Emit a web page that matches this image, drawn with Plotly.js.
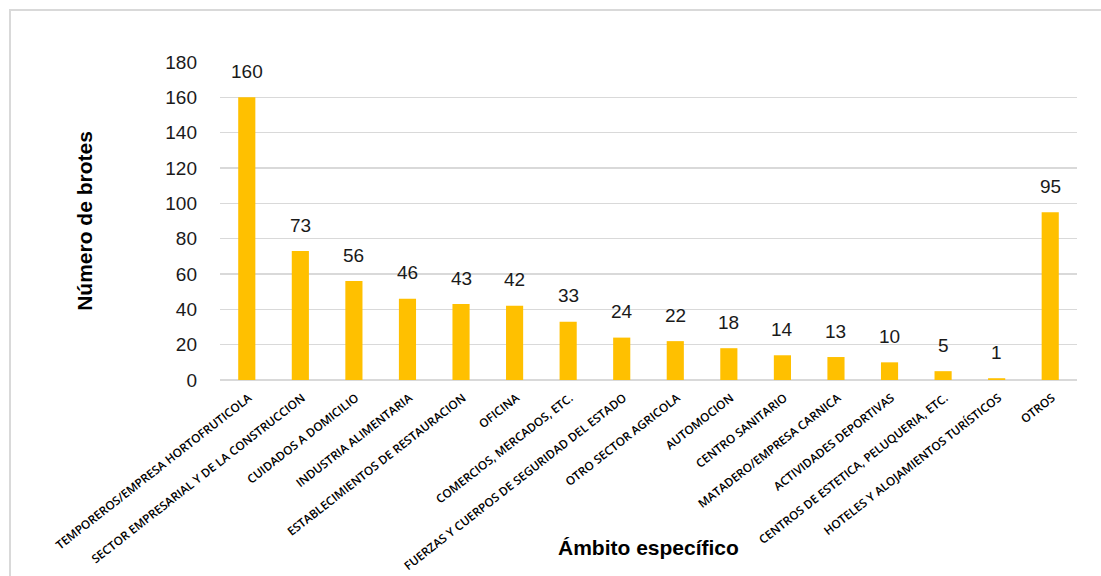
<!DOCTYPE html>
<html>
<head>
<meta charset="utf-8">
<script src="https://cdn.plot.ly/plotly-3.0.1.min.js"></script>
<style>
html,body{margin:0;padding:0;background:#fff;}
#wrap{position:relative;width:1101px;height:576px;overflow:hidden;}
#chart{position:absolute;left:0;top:0;width:1101px;height:576px;}
#frame{position:absolute;left:9px;top:9px;width:1200px;height:700px;border-left:2px solid #d9d9d9;border-top:2px solid #d9d9d9;pointer-events:none;}
</style>
</head>
<body>
<div id="wrap"><div id="chart"></div><div id="frame"></div></div>
<script>
const categories = [
  "TEMPOREROS/EMPRESA HORTOFRUTICOLA",
  "SECTOR EMPRESARIAL Y DE LA CONSTRUCCION",
  "CUIDADOS A DOMICILIO",
  "INDUSTRIA ALIMENTARIA",
  "ESTABLECIMIENTOS DE RESTAURACION",
  "OFICINA",
  "COMERCIOS, MERCADOS, ETC.",
  "FUERZAS Y CUERPOS DE SEGURIDAD DEL ESTADO",
  "OTRO SECTOR AGRICOLA",
  "AUTOMOCION",
  "CENTRO SANITARIO",
  "MATADERO/EMPRESA CARNICA",
  "ACTIVIDADES DEPORTIVAS",
  "CENTROS DE ESTETICA, PELUQUERIA, ETC.",
  "HOTELES Y ALOJAMIENTOS TURÍSTICOS",
  "OTROS"
];
const values = [160, 73, 56, 46, 43, 42, 33, 24, 22, 18, 14, 13, 10, 5, 1, 95];
const yTicks = [0, 20, 40, 60, 80, 100, 120, 140, 160, 180];

const trace = {
  type: 'bar',
  x: categories,
  y: values,
  marker: {color: '#FFC000'},
  hoverinfo: 'x+y'
};

const valueLabels = categories.map((c, i) => ({
  x: c, y: values[i], xref: 'x', yref: 'y',
  text: String(values[i]),
  showarrow: false,
  yanchor: 'middle', xanchor: 'center',
  yshift: 26,
  font: {family: 'Liberation Sans, Arial, sans-serif', size: 19, color: '#1a1a1a'}
}));

const layout = {
  width: 1101,
  height: 576,
  margin: {l: 220, r: 24, t: 62, b: 196},
  paper_bgcolor: '#ffffff',
  plot_bgcolor: '#ffffff',
  bargap: 0.68,
  showlegend: false,
  font: {family: 'Liberation Sans, Arial, sans-serif', color: '#262626'},
  xaxis: {
    type: 'category',
    tickangle: -38,
    tickfont: {family: 'Open Sans, sans-serif', size: 11.8, color: '#000000', weight: 600},
    ticklabelstandoff: 8,
    ticklabelshift: 2,
    showgrid: false,
    showline: false,
    ticks: '',
    automargin: false
  },
  yaxis: {
    range: [0, 180],
    tickvals: yTicks,
    ticktext: yTicks.map(String),
    tickfont: {family: 'Liberation Sans, Arial, sans-serif', size: 19, color: '#1a1a1a'},
    ticklabelstandoff: 22,
    showgrid: true,
    gridcolor: '#d9d9d9',
    gridwidth: 1.5,
    zeroline: true,
    zerolinecolor: '#d9d9d9',
    zerolinewidth: 1.5,
    showline: false,
    ticks: '',
    automargin: false,
    title: {text: 'Número de brotes', font: {family: 'Liberation Sans, Arial, sans-serif', size: 21, color: '#000000', weight: 'bold'}, standoff: 66}
  },
  annotations: valueLabels.concat([{
    text: 'Ámbito específico',
    xref: 'paper', yref: 'paper',
    x: 0.5, y: -0.528,
    xanchor: 'center', yanchor: 'middle',
    showarrow: false,
    font: {family: 'Liberation Sans, Arial, sans-serif', size: 21, color: '#000000', weight: 'bold'}
  }])
};

Plotly.newPlot('chart', [trace], layout, {displayModeBar: false, staticPlot: true});
</script>
</body>
</html>
